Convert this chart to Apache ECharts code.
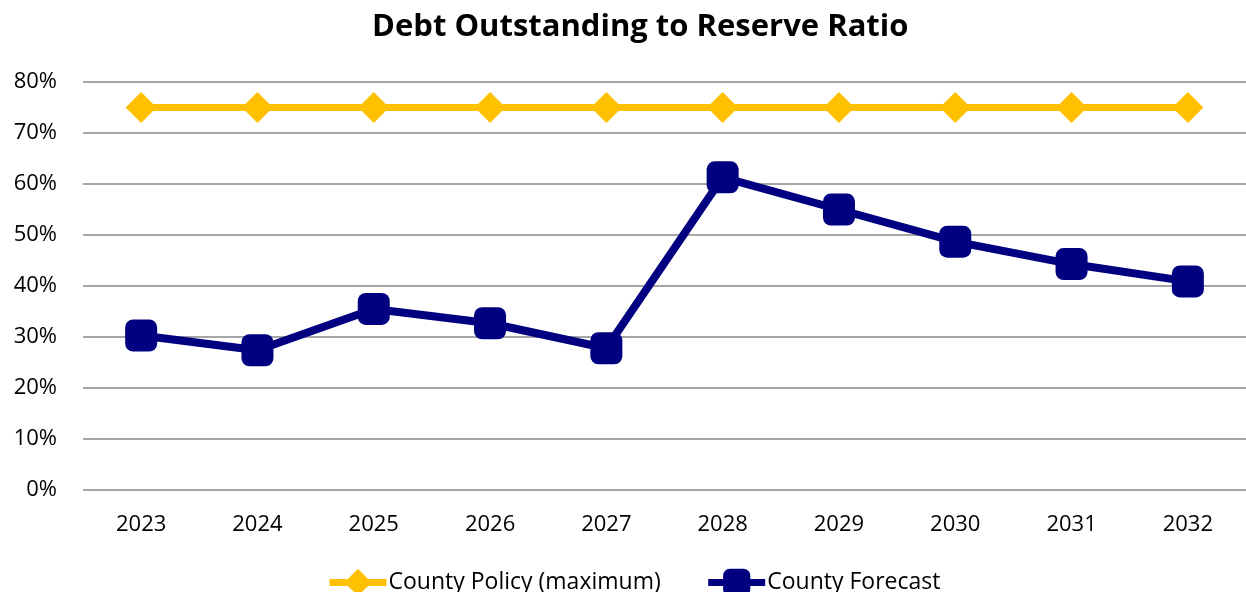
<!DOCTYPE html>
<html>
<head>
<meta charset="utf-8">
<script src="https://cdn.jsdelivr.net/npm/echarts@6/dist/echarts.min.js"></script>
<style>
  html, body { margin: 0; padding: 0; background: #fff; }
  #chart { width: 1246px; height: 592px; }
</style>
</head>
<body>
<div id="chart"></div>
<script>
// Fiscal years shown on the category axis
const years = ['2023', '2024', '2025', '2026', '2027', '2028', '2029', '2030', '2031', '2032'];
// Policy ceiling (percent)
const policyMax = [75, 75, 75, 75, 75, 75, 75, 75, 75, 75];
// Forecast ratio of debt outstanding to reserves (percent)
const forecast = [30.3, 27.4, 35.5, 32.7, 27.8, 61.3, 55.0, 48.7, 44.3, 40.9];
// Value-axis tick range
const yMin = 0, yMax = 80, yStep = 10;

const font = '"Open Sans", "Liberation Sans", sans-serif';
const chart = echarts.init(document.getElementById('chart'));
chart.setOption({
  animation: false,
  backgroundColor: '#ffffff',
  title: {
    text: 'Debt Outstanding to Reserve Ratio',
    left: 367,
    top: 7,
    textStyle: { fontFamily: font, fontWeight: 'bold', fontSize: 31, color: '#000' }
  },
  legend: {
    bottom: -9,
    left: 321,
    itemWidth: 57,
    itemHeight: 34,
    itemGap: 44,
    lineStyle: { width: 7 },
    textStyle: { fontFamily: font, fontSize: 23, color: '#000', padding: [0, 0, 0, -3] },
    data: ['County Policy (maximum)', 'County Forecast']
  },
  grid: { left: 83, right: 0, top: 82, bottom: 102 },
  xAxis: {
    type: 'category',
    data: years,
    boundaryGap: true,
    axisLine: { show: false },
    axisTick: { show: false },
    axisLabel: { fontFamily: font, fontSize: 22, color: '#000', margin: 24 }
  },
  yAxis: {
    type: 'value',
    min: yMin,
    max: yMax,
    interval: yStep,
    axisLine: { show: false },
    axisTick: { show: false },
    axisLabel: { fontFamily: font, fontSize: 22, color: '#000', margin: 26, formatter: '{value}%' },
    splitLine: { lineStyle: { color: '#a6a6a6', width: 2 } }
  },
  series: [
    {
      name: 'County Policy (maximum)',
      type: 'line',
      data: policyMax,
      symbol: 'diamond',
      symbolSize: 31,
      lineStyle: { color: '#ffc000', width: 7 },
      itemStyle: { color: '#ffc000' },
      z: 3
    },
    {
      name: 'County Forecast',
      type: 'line',
      data: forecast,
      symbol: 'roundRect',
      symbolSize: 32,
      lineStyle: { color: '#000080', width: 8 },
      itemStyle: { color: '#000080' },
      z: 4
    }
  ]
});
</script>
</body>
</html>
